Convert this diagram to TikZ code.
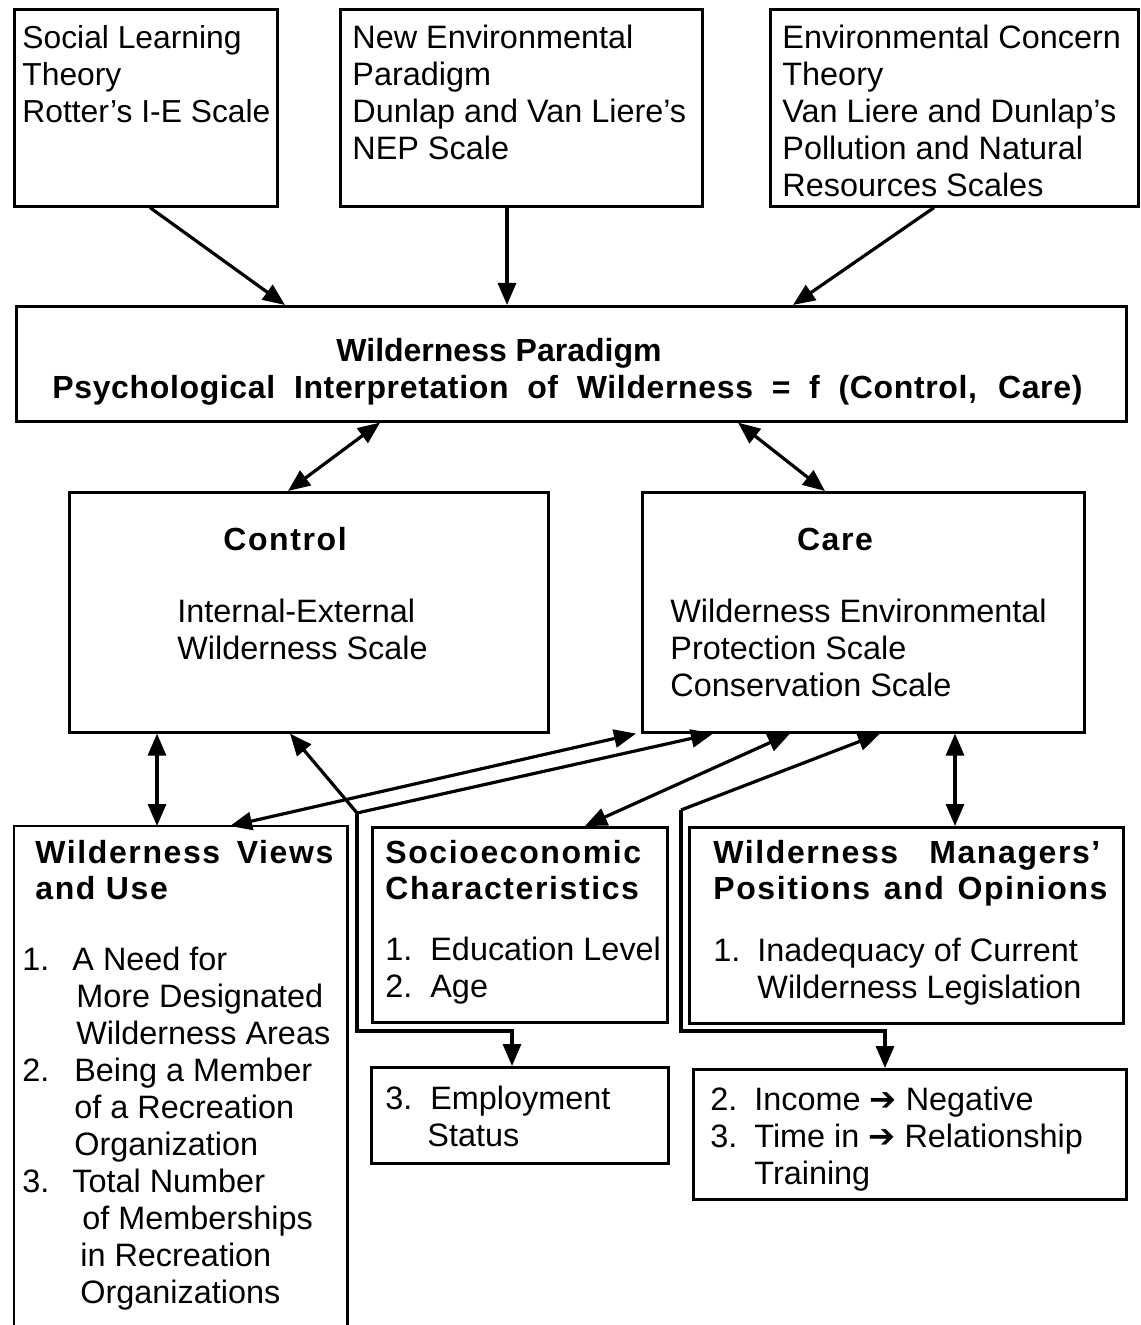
\documentclass[tikz,border=0pt]{standalone}
\usepackage{fontspec}
\setmainfont{Liberation Sans}
\newfontfamily\symfont{DejaVu Sans}
\usetikzlibrary{calc,arrows.meta}
\begin{document}
\begin{tikzpicture}[x=0.5pt,y=-0.5pt,
  boxst/.style={draw, line width=1.3pt, inner sep=0pt, anchor=north west},
  txt/.style={inner sep=0pt, anchor=north west, align=left, font=\fontsize{16.2}{18.5}\selectfont},
  hd/.style={inner sep=0pt, anchor=base west, font=\fontsize{16}{18.5}\selectfont\bfseries\addfontfeature{LetterSpace=5}},
  hdp/.style={inner sep=0pt, anchor=base west, font=\fontsize{16}{18.5}\selectfont\bfseries},
  arr/.style={line width=1.6pt, -{Triangle[length=11pt,width=9pt]}},
  darr/.style={line width=1.6pt, {Triangle[length=11pt,width=9pt]}-{Triangle[length=11pt,width=9pt]}}]
\useasboundingbox[fill=white] (0,0) rectangle (1140,1325);
% boxes
\node[boxst, minimum width=131.5pt, minimum height=98.5pt] (b1) at (13,8) {};
\node[boxst, minimum width=181pt, minimum height=98.5pt] (b2) at (339,8) {};
\node[boxst, minimum width=184pt, minimum height=98.5pt] (b3) at (769,8) {};
\node[boxst, minimum width=555pt, minimum height=57.5pt] (par) at (15,305) {};
\node[boxst, minimum width=239.5pt, minimum height=120pt] (ctl) at (68,491) {};
\node[boxst, minimum width=221pt, minimum height=120pt] (care) at (641,491) {};
\node[boxst, draw=none, minimum width=165.5pt, minimum height=249.5pt] (views) at (14,826) {};
\draw[line width=1.3pt] (views.south west) -- (views.north west) -- (views.north east) -- (views.south east);
\node[boxst, minimum width=147.5pt, minimum height=97.5pt] (soc) at (371,826) {};
\node[boxst, minimum width=217pt, minimum height=98pt] (mgr) at (688,826) {};
\node[boxst, minimum width=148.5pt, minimum height=48pt] (emp) at (370,1066) {};
\node[boxst, minimum width=216.5pt, minimum height=65pt] (inc) at (692,1068) {};
% texts
\node[txt, font=\fontsize{15.9}{18.5}\selectfont] (t1) at (22,25) {Social Learning\\Theory\\Rotter's I-E Scale};
\node[txt] (t2) at (352,25) {New Environmental\\Paradigm\\Dunlap and Van Liere's\\NEP Scale};
\node[txt] (t3) at (782,25) {Environmental Concern\\Theory\\Van Liere and Dunlap's\\Pollution and Natural\\Resources Scales};
\node[hdp] (p1) at (336,362) {Wilderness Paradigm};
\node[hdp, font=\fontsize{16}{18.5}\selectfont\bfseries\addfontfeature{LetterSpace=2}] (p2) at (52,399) {\makebox[515pt][s]{Psychological Interpretation of Wilderness = f (Control, Care)}};
\node[hd, anchor=base] (c1) at (285,550) {Control};
\node[hd, anchor=base] (c2) at (835,550) {Care};
\node[txt] (c3) at (177,599) {Internal-External\\Wilderness Scale};
\node[txt] (c4) at (670,599) {Wilderness Environmental\\Protection Scale\\Conservation Scale};
\node[hd] (v1) at (35,863) {\makebox[149pt][s]{Wilderness Views}};
\node[hd] (v2) at (35,899) {and Use};
\node[txt] (v3) at (22,947) {\makebox[25pt][l]{1.}A Need for\\\hspace*{27pt}More Designated\\\hspace*{27pt}Wilderness Areas\\\makebox[26pt][l]{2.}Being a Member\\\hspace*{26pt}of a Recreation\\\hspace*{26pt}Organization\\\makebox[25pt][l]{3.}Total Number\\\hspace*{30pt}of Memberships\\\hspace*{29pt}in Recreation\\\hspace*{29pt}Organizations};
\node[hd] (s1) at (385,863) {Socioeconomic};
\node[hd] (s2) at (385,899) {Characteristics};
\node[txt] (s3) at (385,937) {\makebox[22.5pt][l]{1.}Education Level\\\makebox[22.5pt][l]{2.}Age};
\node[hd] (m1) at (713,863) {\makebox[193.5pt][s]{Wilderness Managers'}};
\node[hd] (m2) at (713,899) {\makebox[197pt][s]{Positions and Opinions}};
\node[txt] (m3) at (713,938) {\makebox[22pt][l]{1.}Inadequacy of Current\\\hspace*{22pt}Wilderness Legislation};
\node[txt] (e1) at (385,1086) {\makebox[22.5pt][l]{3.}Employment\\\hspace*{21pt}Status};
\node[txt] (i1) at (710,1087) {\makebox[22pt][l]{2.}Income {\symfont ➔} Negative\\\makebox[22pt][l]{3.}Time in {\symfont ➔} Relationship\\\hspace*{22pt}Training};
% connectors
\draw[arr] ($(b1.south west)+(137,0)$) -- ($(par.north west)+(270,0)$);
\draw[arr] ($(b2.south west)+(168,0)$) -- ($(par.north west)+(492,0)$);
\draw[arr] ($(b3.south west)+(165,0)$) -- ($(par.north west)+(778,0)$);
\draw[darr] ($(par.south west)+(365,0)$) -- ($(ctl.north west)+(220,0)$);
\draw[darr] ($(par.south west)+(723,0)$) -- ($(care.north west)+(184,0)$);
\draw[darr] ($(ctl.south west)+(89,0)$) -- ($(views.north west)+(143,0)$);
\draw[darr] ($(care.south west)+(314,0)$) -- ($(mgr.north west)+(267,0)$);
\draw[darr] ($(views.north west)+(216,0)$) -- ($(care.south west)+(-5,0)$);
\coordinate (J) at (357,813);
\coordinate (K) at (681,810);
\draw[arr] (J) -- ($(ctl.south west)+(222,0)$);
\draw[arr] (J) -- ($(care.south west)+(72,0)$);
\draw[arr] (J) |- ($(emp.north west)+(142,-35)$) -- ($(emp.north west)+(142,0)$);
\draw[darr] ($(soc.north west)+(214,0)$) -- ($(care.south west)+(149,0)$);
\draw[arr] (K) -- ($(care.south west)+(239,0)$);
\draw[arr] (K) |- ($(inc.north west)+(193,-37)$) -- ($(inc.north west)+(193,0)$);
\end{tikzpicture}
\end{document}
